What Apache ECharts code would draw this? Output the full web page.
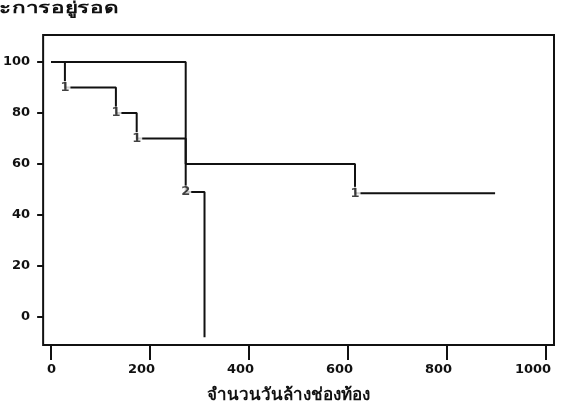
<!DOCTYPE html>
<html>
<head>
<meta charset="utf-8">
<script src="https://cdn.jsdelivr.net/npm/echarts@6/dist/echarts.min.js"></script>
<style>
  html, body { margin: 0; padding: 0; background: #fff; }
  #main { width: 570px; height: 413px; }
</style>
</head>
<body>
<div id="main"></div>
<script>
// step points of the two survival curves (day, percent)
var curveA = [[0, 100], [272, 60], [614, 48.5], [897, 48.5]];
var curveB = [[0, 100], [28, 90], [131, 80], [173, 70], [272, 49], [310, -8]];
// event counts printed at the drops
var eventMarks = [[28, 90, '1'], [131, 80, '1'], [173, 70, '1'], [272, 49, '2'], [614, 48.5, '1']];
var xTicks = [0, 200, 400, 600, 800, 1000];
var yTicks = [0, 20, 40, 60, 80, 100];

var ink = '#111';
var font = 'DejaVu Sans';

var ec = echarts.init(document.getElementById('main'));
ec.setOption({
    animation: false,
    grid: { left: 41, right: 16, top: 35, bottom: 68, show: true, borderColor: ink, borderWidth: 2 },
    xAxis: {
        type: 'value', min: -16, max: 1016,
        splitLine: { show: false },
        axisLine: { show: false, onZero: false },
        axisTick: { show: true, length: 15, customValues: xTicks, lineStyle: { color: ink, width: 2 } },
        axisLabel: {
            customValues: xTicks, margin: 18, align: 'right', padding: [0, -5, 0, 0],
            formatter: function (v) { return String(v); },
            color: ink, fontFamily: font, fontWeight: 'bold', fontSize: 13
        }
    },
    yAxis: {
        type: 'value', min: -11, max: 110.6,
        splitLine: { show: false },
        axisLine: { show: false, onZero: false },
        axisTick: { show: true, length: 6, customValues: yTicks, lineStyle: { color: ink, width: 2 } },
        axisLabel: {
            customValues: yTicks, margin: 13,
            color: ink, fontFamily: font, fontWeight: 'bold', fontSize: 13
        }
    },
    graphic: [
        {
            // scanned title is cut off at the left edge, printer font is wide
            type: 'text', x: 118, y: 1, scaleX: 1.4,
            style: { text: 'ร้อยละการอยู่รอด', fill: ink, font: 'bold 16px sans-serif', textAlign: 'right' }
        },
        {
            type: 'text', x: 207, y: 387,
            style: { text: 'จำนวนวันล้างช่องท้อง', fill: ink, font: 'bold 17px sans-serif' }
        }
    ],
    series: [
        {
            type: 'line', step: 'end', data: curveA, symbol: 'none',
            lineStyle: { color: ink, width: 2 }
        },
        {
            type: 'line', step: 'end', data: curveB, symbol: 'none',
            lineStyle: { color: ink, width: 2 }
        },
        {
            type: 'scatter', data: eventMarks, symbolSize: 0, z: 5,
            label: {
                show: true, position: 'inside',
                formatter: function (p) { return p.data[2]; },
                color: ink, fontFamily: font, fontWeight: 'bold', fontSize: 13,
                backgroundColor: '#fff', padding: [0, 1]
            }
        }
    ]
});
</script>
</body>
</html>
